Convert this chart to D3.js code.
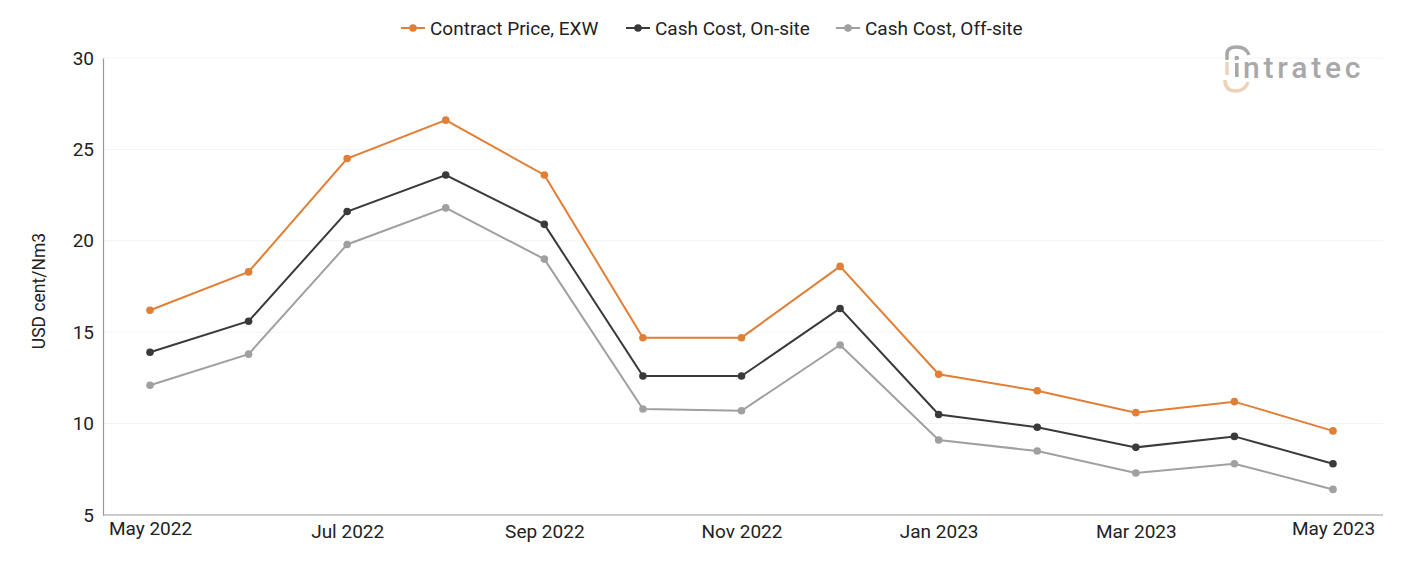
<!DOCTYPE html>
<html>
<head>
<meta charset="utf-8">
<script src="https://cdn.jsdelivr.net/npm/d3@7"></script>
<style>
  body { margin: 0; background: #fff; }
  text { font-family: Roboto, "Noto Sans", sans-serif; }
</style>
</head>
<body>
<svg id="chart" width="1401" height="561"></svg>
<script>
var months = ["May 2022","Jun 2022","Jul 2022","Aug 2022","Sep 2022","Oct 2022","Nov 2022",
              "Dec 2022","Jan 2023","Feb 2023","Mar 2023","Apr 2023","May 2023"];
var tickLabels = ["May 2022","Jul 2022","Sep 2022","Nov 2022","Jan 2023","Mar 2023","May 2023"];
var contractPrice = [16.2, 18.3, 24.5, 26.6, 23.6, 14.7, 14.7, 18.6, 12.7, 11.8, 10.6, 11.2, 9.6];
var cashOnsite    = [13.9, 15.6, 21.6, 23.6, 20.9, 12.6, 12.6, 16.3, 10.5, 9.8, 8.7, 9.3, 7.8];
var cashOffsite   = [12.1, 13.8, 19.8, 21.8, 19.0, 10.8, 10.7, 14.3, 9.1, 8.5, 7.3, 7.8, 6.4];
var yTicks = [5, 10, 15, 20, 25, 30];
var seriesNames = ["Contract Price, EXW", "Cash Cost, On-site", "Cash Cost, Off-site"];
var seriesColors = ["#e07f35", "#3a3a3a", "#a0a0a0"];

var series = [contractPrice, cashOnsite, cashOffsite].map(function(v, i){
  return {name: seriesNames[i], color: seriesColors[i], values: v};
});

var svg = d3.select("#chart");
var plotLeft = 103, plotRight = 1383, plotTop = 58, plotBottom = 515;

var x = d3.scalePoint().domain(months).range([150, 1333]);
var y = d3.scaleLinear().domain([5, 30]).range([plotBottom, plotTop]);

// grid lines
svg.append("g").selectAll("line")
  .data(yTicks.slice(1))
  .enter().append("line")
  .attr("x1", plotLeft).attr("x2", plotRight)
  .attr("y1", function(d){ return y(d); })
  .attr("y2", function(d){ return y(d); })
  .style("stroke", "#f3f3f3")
  .style("stroke-width", 1);

// axes
var yAxis = svg.append("g")
  .attr("transform", "translate(" + plotLeft + ",0)")
  .call(d3.axisLeft(y).tickValues(yTicks).tickSize(0).tickPadding(9));
yAxis.select(".domain").style("stroke", "#999").style("stroke-width", 1.2);
yAxis.selectAll("text").style("font-size", "19px").style("fill", "#222")
  .style("font-family", "Roboto");

var xAxis = svg.append("g")
  .attr("transform", "translate(0," + plotBottom + ")")
  .call(d3.axisBottom(x).tickValues(tickLabels).tickSize(0).tickPadding(10));
xAxis.select(".domain").remove();
xAxis.selectAll("text").style("font-size", "19px").style("fill", "#222")
  .style("font-family", "Roboto")
  .attr("dy", function(d){ return (d == "May 2022" || d == "May 2023") ? "0.55em" : "0.71em"; });
svg.append("line")
  .attr("x1", plotLeft).attr("x2", plotRight)
  .attr("y1", plotBottom).attr("y2", plotBottom)
  .style("stroke", "#999").style("stroke-width", 1.2);

// y title
svg.append("text")
  .attr("transform", "translate(45,291) rotate(-90)")
  .attr("text-anchor", "middle")
  .style("font-size", "17.5px")
  .style("fill", "#222")
  .text("USD cent/Nm3");

// lines
var line = d3.line()
  .x(function(d, i){ return x(months[i]); })
  .y(function(d){ return y(d); });

var gs = svg.selectAll("g.series")
  .data(series)
  .enter().append("g")
  .attr("class", "series");

gs.append("path")
  .attr("d", function(d){ return line(d.values); })
  .style("fill", "none")
  .style("stroke", function(d){ return d.color; })
  .style("stroke-width", 2);

gs.selectAll("circle")
  .data(function(d){ return d.values.map(function(v, i){ return {v: v, i: i, color: d.color}; }); })
  .enter().append("circle")
  .attr("cx", function(d){ return x(months[d.i]); })
  .attr("cy", function(d){ return y(d.v); })
  .attr("r", 3.8)
  .style("fill", function(d){ return d.color; });

// legend
var legendX = [401, 626, 836];
var lg = svg.selectAll("g.legend")
  .data(series)
  .enter().append("g")
  .attr("class", "legend")
  .attr("transform", function(d, i){ return "translate(" + legendX[i] + ",28)"; });
lg.append("line")
  .attr("x1", 0).attr("x2", 24)
  .style("stroke", function(d){ return d.color; })
  .style("stroke-width", 2);
lg.append("circle")
  .attr("cx", 12).attr("r", 3.8)
  .style("fill", function(d){ return d.color; });
lg.append("text")
  .attr("x", 29).attr("dy", "0.35em")
  .style("font-size", "19px")
  .style("fill", "#222")
  .text(function(d){ return d.name; });

// logo
var logo = svg.append("g").attr("transform", "translate(1222,45)");
logo.append("path")
  .attr("d", "M5,15 L5,9 Q5,2 15,2 Q24,2 27,10")
  .style("fill", "none").style("stroke", "#a8a8a8").style("stroke-width", 3.5);
logo.append("rect").attr("x", 3.3).attr("y", 17).attr("width", 3.4).attr("height", 13).style("fill", "#ecd2b8");
logo.append("rect").attr("x", 13).attr("y", 18).attr("width", 3.6).attr("height", 14).style("fill", "#a8a8a8");
logo.append("circle").attr("cx", 14.8).attr("cy", 13).attr("r", 2.3).style("fill", "#a8a8a8");
logo.append("path")
  .attr("d", "M3,35 Q3,46 14,46 Q23,46 26,37")
  .style("fill", "none").style("stroke", "#ecd2b8").style("stroke-width", 3.5);
logo.append("text")
  .attr("x", 21).attr("y", 32.5)
  .style("font-size", "30px")
  .style("font-weight", 500)
  .style("letter-spacing", "3.8px")
  .style("fill", "#a8a8a8")
  .text("ntratec");
</script>
</body>
</html>
